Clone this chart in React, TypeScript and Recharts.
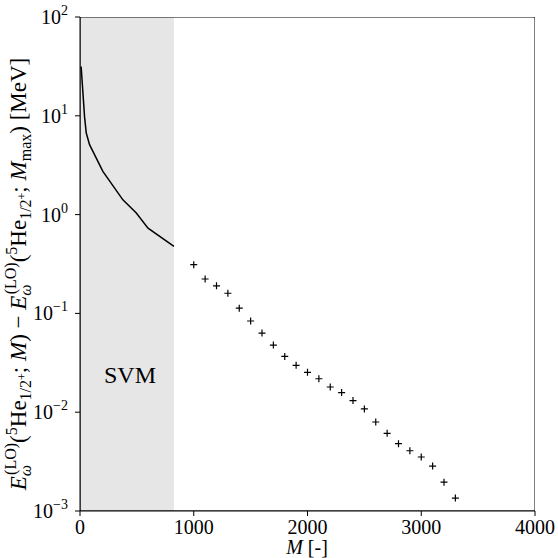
import React from "react";
import {
  ComposedChart,
  Line,
  Scatter,
  XAxis,
  YAxis,
  ReferenceArea,
} from "recharts";

const FONT = "Liberation Serif";

// SVM curve (M, energy difference in MeV)
const svmM = [10, 40, 55, 84, 201, 377, 495, 598, 826];
const svmE = [31.6, 9.8, 6.7, 5.1, 2.74, 1.41, 1.04, 0.73, 0.477];

// discrete points
const ptM = [
  1000, 1100, 1200, 1300, 1400, 1500, 1600, 1700, 1800, 1900, 2000, 2100,
  2200, 2300, 2400, 2500, 2600, 2700, 2800, 2900, 3000, 3100, 3200, 3300,
];
const ptE = [
  0.311, 0.223, 0.19, 0.16, 0.113, 0.0838, 0.0632, 0.0478, 0.0367, 0.0298,
  0.0253, 0.0218, 0.018, 0.0158, 0.0131, 0.0108, 0.00796, 0.00611, 0.0048,
  0.00407, 0.00352, 0.00285, 0.00196, 0.00135,
];

const xTicks = [0, 1000, 2000, 3000, 4000];
const yTicks = [0.001, 0.01, 0.1, 1, 10, 100];
const yExp = ["−3", "−2", "−1", "0", "1", "2"];
const svmEnd = 826;

const minorTicks: number[] = [];
for (let k = -3; k <= 1; k++) {
  for (let m = 2; m <= 9; m++) minorTicks.push(m * Math.pow(10, k));
}

const lineData = svmM.map((m, i) => ({ M: m, E: svmE[i] }));
const ptData = ptM.map((m, i) => ({ M: m, E: ptE[i] }));

const YTick = (props: any) => {
  const { x, y, payload } = props;
  const idx = yTicks.findIndex((t) => Math.abs(t - payload.value) / t < 1e-6);
  const exp = idx >= 0 ? yExp[idx] : "";
  return (
    <text x={x - 5} y={y + 7} textAnchor="end" fontFamily={FONT} fontSize={20} fill="#000">
      10
      <tspan dy={-9} fontSize={14}>
        {exp}
      </tspan>
    </text>
  );
};

const XTick = (props: any) => {
  const { x, y, payload } = props;
  return (
    <text x={x} y={y + 16} textAnchor="middle" fontFamily={FONT} fontSize={20} fill="#000">
      {payload.value}
    </text>
  );
};

const Plus = (props: any) => {
  const { cx, cy } = props;
  if (cx == null || cy == null) return <g />;
  return (
    <path
      d={`M${cx - 3.5},${cy}h7M${cx},${cy - 3.5}v7`}
      stroke="#000"
      strokeWidth={1.2}
      fill="none"
    />
  );
};

type Seg = { t: string; size: number; shift: number; italic?: boolean; dx?: number };
const B = 23;
const S = 16;
const labelSegs: Seg[] = [
  { t: "E", size: B, shift: 0, italic: true },
  { t: "ω", size: S, shift: 5, italic: true },
  { t: "(LO)", size: S, shift: -10, dx: -10 },
  { t: "(", size: B, shift: 0 },
  { t: "5", size: S, shift: -9 },
  { t: "He", size: B, shift: 0 },
  { t: "1/2", size: S, shift: 5 },
  { t: "+", size: 12, shift: 0 },
  { t: "; ", size: B, shift: 0 },
  { t: "M", size: B, shift: 0, italic: true },
  { t: ") − ", size: B, shift: 0 },
  { t: "E", size: B, shift: 0, italic: true },
  { t: "ω", size: S, shift: 5, italic: true },
  { t: "(LO)", size: S, shift: -10, dx: -10 },
  { t: "(", size: B, shift: 0 },
  { t: "5", size: S, shift: -9 },
  { t: "He", size: B, shift: 0 },
  { t: "1/2", size: S, shift: 5 },
  { t: "+", size: 12, shift: 0 },
  { t: "; ", size: B, shift: 0 },
  { t: "M", size: B, shift: 0, italic: true },
  { t: "max", size: S, shift: 5 },
  { t: ") [MeV]", size: B, shift: 0 },
];

const YLabel = () => {
  let prev = 0;
  const cx = 26;
  const cy = 274;
  return (
    <text
      x={0}
      y={0}
      transform={`translate(${cx},${cy}) rotate(-90)`}
      textAnchor="middle"
      fontFamily={FONT}
      fill="#000"
      style={{ whiteSpace: "pre" }}
    >
      {labelSegs.map((s, i) => {
        const dy = s.shift - prev;
        prev = s.shift;
        return (
          <tspan
            key={i}
            dy={dy}
            dx={s.dx ?? 0}
            fontSize={s.size}
            fontStyle={s.italic ? "italic" : "normal"}
          >
            {s.t}
          </tspan>
        );
      })}
    </text>
  );
};

export default function App() {
  return (
    <div
      style={{
        position: "absolute",
        left: 0,
        top: 0,
        background: "#fff",
        fontFamily: "'Liberation Serif', serif",
      }}
    >
      <style>{`svg text, svg tspan { font-family: 'Liberation Serif', 'Times New Roman', serif !important; }`}</style>
      <ComposedChart
        width={558}
        height={558}
        margin={{ top: 17, right: 23, bottom: 0, left: 0 }}
      >
        <XAxis
          dataKey="M"
          type="number"
          domain={[0, 4000]}
          ticks={xTicks}
          tick={<XTick />}
          tickLine={{ stroke: "#000" }}
          tickSize={5}
          axisLine={{ stroke: "#000" }}
          height={47}
          allowDataOverflow
          label={{
            content: () => (
              <text x={307} y={554} textAnchor="middle" fontFamily={FONT} fontSize={20} fill="#000">
                <tspan fontStyle="italic">M</tspan> [-]
              </text>
            ),
          }}
        />
        <YAxis
          yAxisId="minor"
          scale="log"
          type="number"
          domain={[0.001, 100]}
          ticks={minorTicks}
          tick={() => <g />}
          tickSize={3}
          tickLine={{ stroke: "#000" }}
          axisLine={false}
          width={0}
          allowDataOverflow
        />
        <YAxis
          dataKey="E"
          scale="log"
          type="number"
          domain={[0.001, 100]}
          ticks={yTicks}
          tick={<YTick />}
          tickSize={5}
          tickLine={{ stroke: "#000" }}
          axisLine={{ stroke: "#000" }}
          width={80}
          allowDataOverflow
          label={{ content: () => <YLabel /> }}
        />
        <ReferenceArea
          x1={0}
          x2={svmEnd}
          y1={0.001}
          y2={100}
          fill="#e6e6e6"
          fillOpacity={1}
          stroke="none"
          ifOverflow="hidden"
          label={{
            content: () => (
              <text x={130} y={383} textAnchor="middle" fontFamily={FONT} fontSize={24} fill="#000">
                SVM
              </text>
            ),
          }}
        />
        <ReferenceArea
          x1={0}
          x2={4000}
          y1={0.001}
          y2={100}
          fill="none"
          stroke="#000"
          strokeWidth={1}
          ifOverflow="hidden"
        />
        <Line
          data={lineData}
          dataKey="E"
          type="linear"
          stroke="#000"
          strokeWidth={1.5}
          dot={false}
          isAnimationActive={false}
        />
        <Scatter data={ptData} dataKey="E" shape={<Plus />} isAnimationActive={false} />
      </ComposedChart>
    </div>
  );
}
